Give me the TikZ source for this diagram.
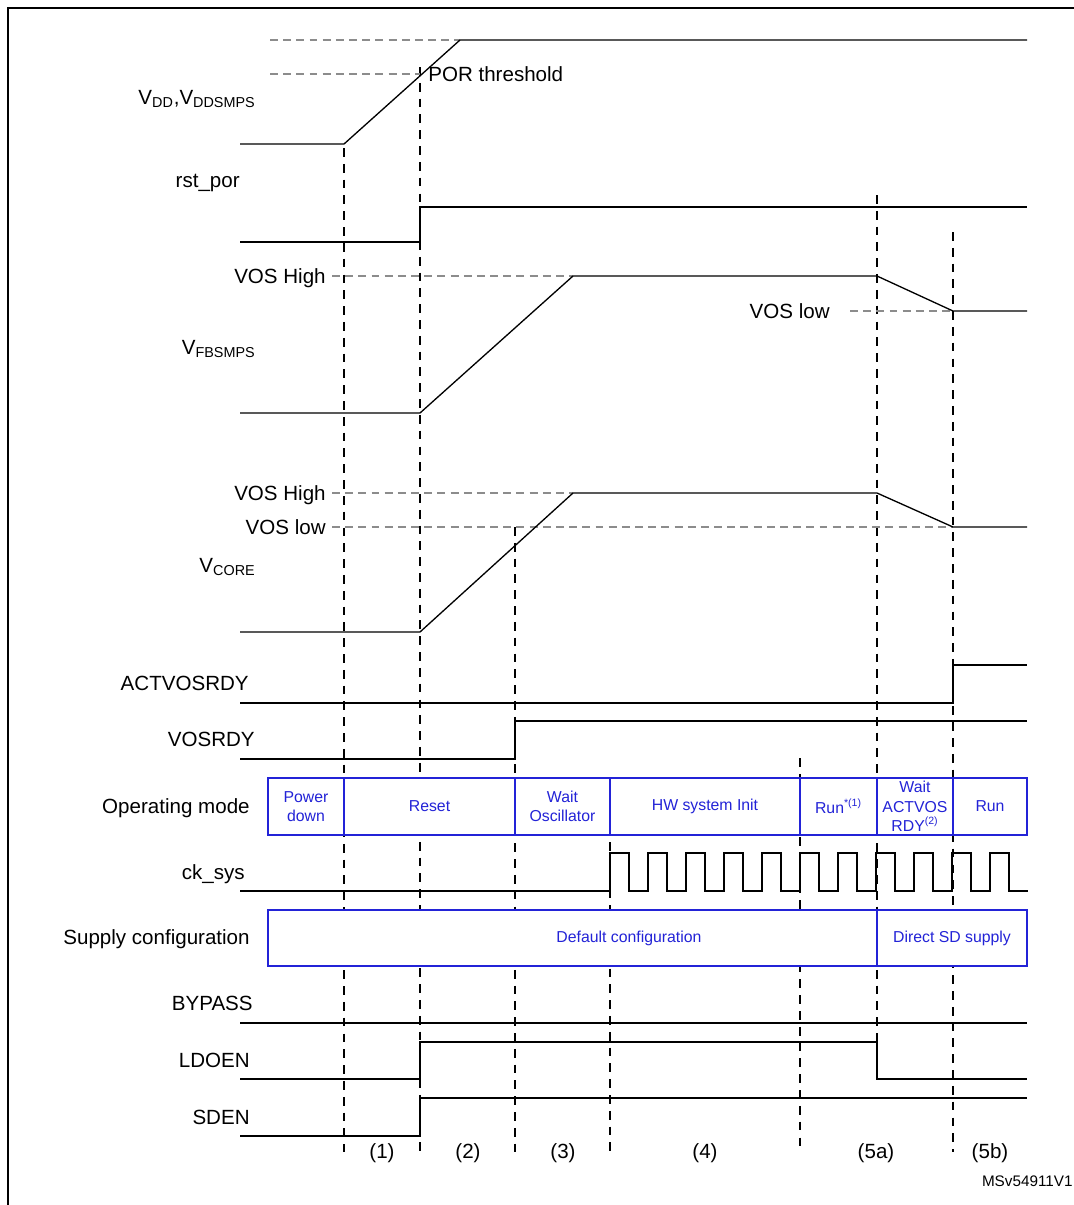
\documentclass[tikz,border=0pt]{standalone}
\usepackage{fontspec}
\setmainfont{Liberation Sans}
\usetikzlibrary{positioning}
\definecolor{modeblue}{RGB}{35,35,215}

\begin{document}
\begin{tikzpicture}[x=0.02cm,y=-0.02cm,
  sig label/.style={anchor=base east,inner sep=0pt,font=\fontsize{11.7}{14}\selectfont},
  phase label/.style={anchor=base,inner sep=0pt,font=\fontsize{11.7}{14}\selectfont},
  wave/.style={black,line width=0.75pt},
  level/.style={black!45,line width=0.7pt,dash pattern=on 4.5pt off 3pt},
  phase line/.style={black,line width=0.7pt,dash pattern=on 5pt off 4pt},
  mode box/.style={draw=modeblue,fill=white,line width=0.75pt},
  mode text/.style={text=modeblue,align=center,inner sep=0pt,font=\fontsize{9}{11}\selectfont}]

	\useasboundingbox (0,0) rectangle (1074,1205);
	\draw[line width=1.4pt] (8,1205) -- (8,8) -- (1074,8);

	% phase borders
	\foreach \x/\y/\z in {344/148/1152,420/67/1152,515/527/1152,610/842/1152,800/758/1152,877/195/1042,953/232/1152}
		\draw[phase line] (\x,\y) -- (\x,\z);

	% reference levels
	\draw[level] (270,40) -- (460,40);
	\draw[level] (270,74) -- (420,74);
	\draw[level] (332,276) -- (573,276);
	\draw[level] (850,311) -- (953,311);
	\draw[level] (332,493) -- (573,493);
	\draw[level] (332,527) -- (953,527);

	% signals
	\draw[wave] (240,144) -- (344,144) -- (460,40) -- (1027,40);
	\draw[wave] (240,242) -- (420,242) -- (420,207) -- (1027,207);
	\draw[wave] (240,413) -- (420,413) -- (573,276) -- (877,276) -- (953,311) -- (1027,311);
	\draw[wave] (240,632) -- (420,632) -- (573,493) -- (877,493) -- (953,527) -- (1027,527);
	\draw[wave] (240,703) -- (953,703) -- (953,665) -- (1027,665);
	\draw[wave] (240,759) -- (515,759) -- (515,721) -- (1027,721);
	\draw[wave] (240,891) -- (610,891)
		foreach \k in {0,...,10} { -- ++(0,-38) -- ++(19,0) -- ++(0,38) -- ++(19,0) };
	\draw[wave] (240,1023) -- (1027,1023);
	\draw[wave] (240,1079) -- (420,1079) -- (420,1042) -- (877,1042) -- (877,1079) -- (1027,1079);
	\draw[wave] (240,1136) -- (420,1136) -- (420,1098) -- (1027,1098);

	% operating modes
	\foreach \a/\b/\n/\t in {268/344/pd/{Power\\down},344/515/rst/Reset,515/610/wosc/{Wait\\Oscillator},
		610/800/hw/HW system Init,800/877/run1/{Run\textsuperscript{*(1)}},
		877/953/wact/{Wait\\ACTVOS\\RDY\textsuperscript{(2)}},953/1027/run2/Run} {
		\draw[mode box] (\a,778) rectangle (\b,835);
		\node[mode text] (\n) at ({(\a+\b)/2},806.5) {\t};
	}

	% supply configuration
	\draw[mode box] (268,910) rectangle (877,966);
	\draw[mode box] (877,910) rectangle (1027,966);
	\node[mode text] (dflt) at (629,938) {Default configuration};
	\node[mode text] (sdsup) at (952,938) {Direct SD supply};

	% signal names
	\node[sig label] (vdd) at (256,104.5) {V\textsubscript{DD},V\textsubscript{DDSMPS}};
	\node[sig label] (rstpor) at (240,187.5) {rst\_por};
	\node[sig label] (fbhigh) at (326,283.5) {VOS High};
	\node[sig label] (fblow) at (830,318.5) {VOS low};
	\node[sig label] (vfb) at (256,354.5) {V\textsubscript{FBSMPS}};
	\node[sig label] (corehigh) at (326,500.5) {VOS High};
	\node[sig label] (corelow) at (326,534.5) {VOS low};
	\node[sig label] (vcore) at (256,572.5) {V\textsubscript{CORE}};
	\node[sig label] (actvos) at (249,690.5) {ACTVOSRDY};
	\node[sig label] (vosrdy) at (255,746.5) {VOSRDY};
	\node[sig label] (opmode) at (250,813.5) {Operating mode};
	\node[sig label] (cksys) at (245,879.5) {ck\_sys};
	\node[sig label] (supply) at (250,944.5) {Supply configuration};
	\node[sig label] (bypass) at (253,1010.5) {BYPASS};
	\node[sig label] (ldoen) at (250,1067.5) {LDOEN};
	\node[sig label] (sden) at (250,1124.5) {SDEN};
	\node[anchor=base west,inner sep=0pt,font=\fontsize{11.7}{14}\selectfont] (por) at (428,81.5) {POR threshold};

	% phase numbers
	\foreach \x/\t in {382/(1),468/(2),563/(3),705/(4),876/(5a),990/(5b)}
		\node[phase label] (ph\x) at (\x,1158.5) {\t};
	\node[anchor=base east,inner sep=0pt,font=\fontsize{8.7}{10}\selectfont] (ref) at (1073,1186) {MSv54911V1};

\end{tikzpicture}
\end{document}
